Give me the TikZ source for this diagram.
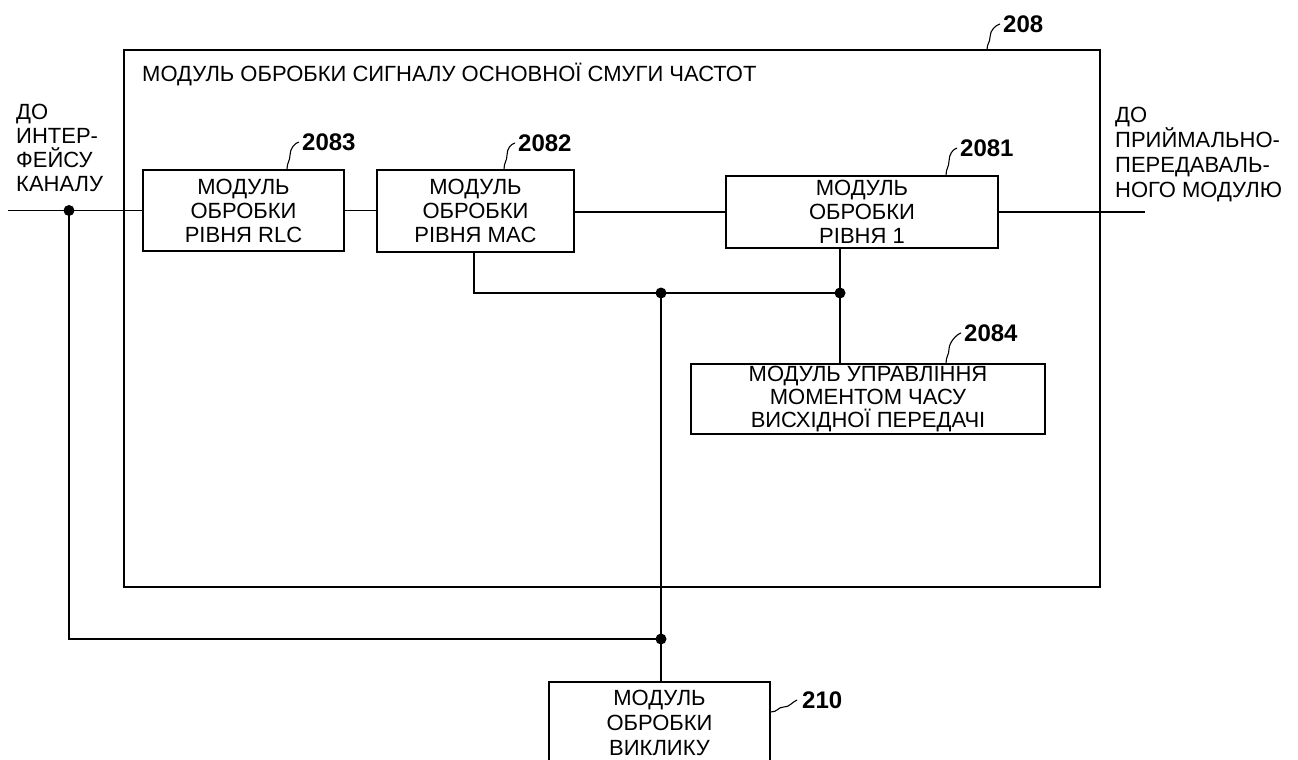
\documentclass[tikz,border=0pt]{standalone}
\usepackage{fontspec}
\setmainfont{Liberation Sans}
\begin{document}
\begin{tikzpicture}[x=1pt,y=-1pt,
  blk/.style={draw, line width=1.6pt, align=center, inner sep=0pt, font=\fontsize{22}{24}\selectfont},
  outerbox/.style={draw, line width=1.6pt, inner sep=0pt},
  num/.style={font=\fontsize{24}{26}\selectfont\bfseries, inner sep=0pt, anchor=west},
  txt/.style={font=\fontsize{22}{24}\selectfont, align=left, inner sep=0pt},
  dot/.style={circle, fill, inner sep=0pt, minimum size=11pt},
  wire/.style={line width=1.6pt},
  lead/.style={line width=1.1pt}]
\useasboundingbox (0,0) rectangle (1298,760);

% outer module
\node[outerbox, minimum width=976pt, minimum height=537pt] (b208) at (612,318.5) {};
\node[txt, anchor=west] (title) at (142,74) {МОДУЛЬ ОБРОБКИ СИГНАЛУ ОСНОВНОЇ СМУГИ ЧАСТОТ};

% blocks
\node[blk, minimum width=201pt, minimum height=81pt] (b2083) at (243.5,210.5) {МОДУЛЬ\\ОБРОБКИ\\РІВНЯ RLC};
\node[blk, minimum width=197pt, minimum height=82pt] (b2082) at (475.5,211) {МОДУЛЬ\\ОБРОБКИ\\РІВНЯ MAC};
\node[blk, minimum width=272pt, minimum height=72pt] (b2081) at (862,212) {МОДУЛЬ\\ОБРОБКИ\\РІВНЯ 1};
\node[blk, minimum width=354pt, minimum height=70pt, font=\fontsize{22}{23}\selectfont] (b2084) at (868,399) {МОДУЛЬ УПРАВЛІННЯ\\МОМЕНТОМ ЧАСУ\\ВИСХІДНОЇ ПЕРЕДАЧІ};
\node[blk, minimum width=221pt, minimum height=82pt, font=\fontsize{22}{25}\selectfont] (b210) at (659.5,723) {МОДУЛЬ\\ОБРОБКИ\\ВИКЛИКУ};

% side labels
\node[txt, anchor=north west] (lblL) at (16,104) {ДО\\ИНТЕР-\\ФЕЙСУ\\КАНАЛУ};
\node[txt, anchor=north west, font=\fontsize{22}{25}\selectfont] (lblR) at (1115,107) {ДО\\ПРИЙМАЛЬНО-\\ПЕРЕДАВАЛЬ-\\НОГО МОДУЛЮ};

% reference numbers
\node[num] (n208) at (1003,24) {208};
\node[num] (n2083) at (302,142) {2083};
\node[num] (n2082) at (518,143) {2082};
\node[num] (n2081) at (960,148) {2081};
\node[num] (n2084) at (964,333) {2084};
\node[num] (n210) at (802,700) {210};

% junctions
\coordinate (inL) at (8,210.5);
\coordinate (outR) at (1145,212);
\node[dot] (j1) at (69,210.5) {};
\node[dot] (j2) at (661,293) {};
\node[dot] (j3) at (840,293) {};
\node[dot] (j4) at (661,639) {};
\coordinate (c1) at (69,639);
\coordinate (c2) at (474,293);

% wires
\draw[wire] (inL) -- (b2083.west);
\draw[wire] (b2083.east) -- (b2083.east -| b2082.west);
\draw[wire] (b2082.east |- b2081.west) -- (b2081.west);
\draw[wire] (b2081.east) -- (outR);
\draw[wire] (c2 |- b2082.south) -- (c2) -- (j3.center);
\draw[wire] (j3 |- b2081.south) -- (j3 |- b2084.north);
\draw[wire] (j2.center) -- (j4.center) -- (j4 |- b210.north);
\draw[wire] (j1.center) -- (c1) -- (j4.center);

% leaders
\draw[lead] ([xshift=43.5pt]b2083.north) .. controls +(0,-7) and +(0,6) .. ++(3,-14) .. controls +(0,-7) and +(-4,1) .. ([xshift=-3pt]n2083.west);
\draw[lead] ([xshift=28.5pt]b2082.north) .. controls +(0,-7) and +(0,6) .. ++(3,-14) .. controls +(0,-7) and +(-4,1) .. ([xshift=-3pt]n2082.west);
\draw[lead] ([xshift=84pt]b2081.north) .. controls +(0,-7) and +(0,6) .. ++(3,-14) .. controls +(0,-7) and +(-4,1) .. ([xshift=-3pt]n2081.west);
\draw[lead] ([xshift=78pt]b2084.north) .. controls +(0,-7) and +(0,6) .. ++(3,-14) .. controls +(0,-7) and +(-4,1) .. ([xshift=-3pt]n2084.west);
\draw[lead] (987,50) .. controls +(0,-7) and +(0,6) .. ++(3,-13) .. controls +(0,-7) and +(-4,1) .. ([xshift=-3pt]n208.west);
\draw[lead] ([yshift=11pt]b210.east) .. controls +(7,0) and +(-6,0) .. ++(13,-5) .. controls +(6,0) and +(-5,2) .. ([xshift=-5pt]n210.west);
\end{tikzpicture}
\end{document}
